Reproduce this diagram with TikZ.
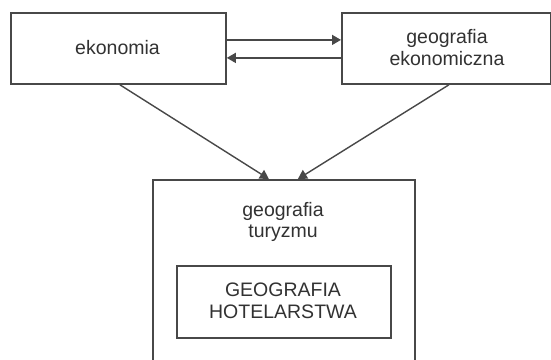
\documentclass[tikz,border=0pt]{standalone}
\usepackage{fontspec}
\setmainfont{Liberation Sans}
\usetikzlibrary{arrows.meta}
\definecolor{linegray}{RGB}{72,72,72}
\definecolor{textgray}{RGB}{50,50,50}
\tikzset{
  box/.style={draw=linegray, line width=1.8pt, rectangle, inner sep=0pt, anchor=north west, text=textgray},
  lbl/.style={text=textgray, align=center, inner sep=0pt, font=\fontsize{19.5}{21.7}\selectfont},
  conn/.style={draw=linegray, line width=1.4pt, -{Triangle[length=9pt,width=10pt]}},
}
\begin{document}
\begin{tikzpicture}[x=1pt,y=-1pt]
\useasboundingbox (0,0) rectangle (551,359);
\fill[white] (0,0) rectangle (551,359);
\clip (0,0) rectangle (551,359);
% top boxes
\node[box, minimum width=215pt, minimum height=71pt] (eko) at (10,12) {};
\node[lbl] (ekolab) at (117.5,47.5) {ekonomia};
\node[box, minimum width=209pt, minimum height=71pt] (geo) at (341,12) {};
\node[lbl] (geolab) at (447,47.5) {geografia\\ekonomiczna};
% bottom box (cut off at the bottom of the picture)
\node[box, minimum width=262pt, minimum height=220pt] (tur) at (152,179) {};
\node[lbl] (turlab) at (283,222) {geografia\\turyzmu};
\node[box, minimum width=214pt, minimum height=72pt] (hot) at (176,265) {};
\node[lbl] (hotlab) at (283,301) {GEOGRAFIA\\HOTELARSTWA};
% connectors
\draw[conn] ([yshift=8.5pt]eko.east) -- ([yshift=8.5pt]geo.west);
\draw[conn] ([yshift=-9.5pt]geo.west) -- ([yshift=-9.5pt]eko.east);
\draw[conn] ([xshift=1.5pt]eko.south) -- ([xshift=-15pt]tur.north);
\draw[conn] ([xshift=2.5pt]geo.south) -- ([xshift=14pt]tur.north);
\end{tikzpicture}
\end{document}
